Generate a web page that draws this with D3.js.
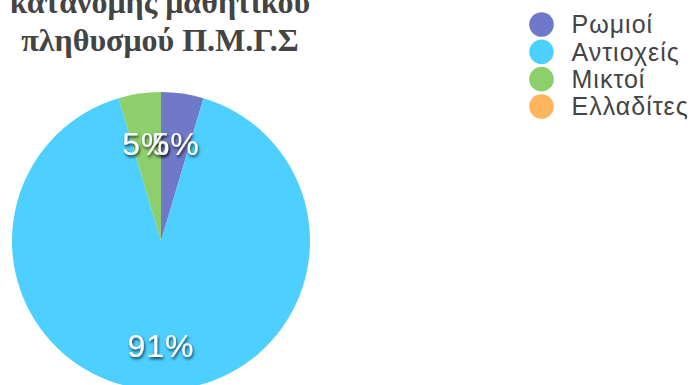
<!DOCTYPE html>
<html>
<head>
<meta charset="utf-8">
<script src="https://cdn.jsdelivr.net/npm/d3@7"></script>
<style>
  html, body { margin: 0; padding: 0; background: #fff; overflow: hidden; }
  svg { display: block; }
</style>
</head>
<body>
<svg id="chart" width="693" height="385"></svg>
<script>
// Student population breakdown by group
const categories = ["Ρωμιοί", "Αντιοχείς", "Μικτοί", "Ελλαδίτες"];
const shares = [4.6, 90.8, 4.6, 0];
const colors = ["#7079c9", "#4dcfff", "#8ccf6b", "#ffb55e"];
const titleLines = ["κατανομής μαθητικού", "πληθυσμού Π.Μ.Γ.Σ"];

const svg = d3.select("#chart");

const defs = svg.append("defs");
const shadow = defs.append("filter").attr("id", "labelShadow")
  .attr("x", "-20%").attr("y", "-20%").attr("width", "140%").attr("height", "160%");
shadow.append("feDropShadow")
  .attr("dx", 1).attr("dy", 2).attr("stdDeviation", 1.5)
  .attr("flood-color", "#000").attr("flood-opacity", 0.75);

// Title (two lines, bold serif)
svg.append("g").selectAll("text").data(titleLines).join("text")
  .attr("x", 160)
  .attr("y", (d, i) => 12.5 + i * 38)
  .attr("text-anchor", "middle")
  .attr("font-family", "'Liberation Serif', 'DejaVu Serif', serif")
  .attr("font-weight", "bold")
  .attr("font-size", 32)
  .attr("fill", "#444")
  .text(d => d);

// Pie
const cx = 161, cy = 241, r = 149;
const pie = d3.pie().sort(null).value(d => d);
const arcs = pie(shares);
const total = d3.sum(shares);
const arc = d3.arc().innerRadius(0).outerRadius(r);
const labelArc = d3.arc().innerRadius(r * 0.68).outerRadius(r * 0.68);

const g = svg.append("g").attr("transform", `translate(${cx},${cy})`);
g.selectAll("path").data(arcs).join("path")
  .attr("d", arc)
  .attr("fill", (d, i) => colors[i]);

g.selectAll("text").data(arcs.filter(d => d.value > 0)).join("text")
  .attr("transform", d => {
    const [x, y] = labelArc.centroid(d);
    return `translate(${x},${y + 3})`;
  })
  .attr("text-anchor", "middle")
  .attr("dy", "0.36em")
  .attr("font-family", "'Liberation Sans', Arial, sans-serif")
  .attr("font-size", 32)
  .attr("letter-spacing", 1)
  .attr("fill", "#fff")
  .attr("filter", "url(#labelShadow)")
  .text(d => Math.round(d.value / total * 100) + "%");

// Legend
const legend = svg.append("g");
const rowY = d3.scalePoint().domain(categories).range([24.5, 106.5]);
const items = legend.selectAll("g").data(categories).join("g")
  .attr("transform", d => `translate(541.5,${rowY(d)})`);
items.append("circle").attr("r", 12.3).attr("fill", (d, i) => colors[i]);
items.append("text")
  .attr("x", 30)
  .attr("dy", "0.35em")
  .attr("font-family", "'Liberation Sans', Arial, sans-serif")
  .attr("font-size", 25)
  .attr("letter-spacing", 1)
  .attr("fill", "#444")
  .text(d => d);
</script>
</body>
</html>
